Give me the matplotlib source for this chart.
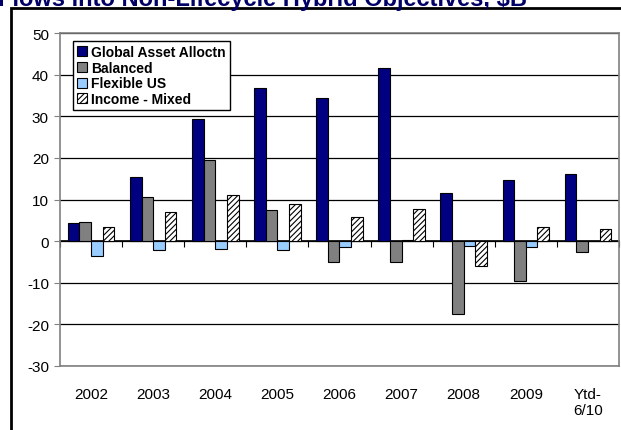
import matplotlib
matplotlib.use('Agg')
import matplotlib.pyplot as plt
import numpy as np
from matplotlib.patches import Rectangle

plt.rcParams['font.family'] = ['Liberation Sans', 'DejaVu Sans']
plt.rcParams['hatch.linewidth'] = 0.8
plt.rcParams['axes.unicode_minus'] = False

# flows by year, $B
years = ['2002', '2003', '2004', '2005', '2006', '2007', '2008', '2009', 'Ytd-\n6/10']
global_asset = [4.3, 15.3, 29.4, 36.8, 34.3, 41.7, 11.5, 14.6, 16.2]
balanced = [4.7, 10.7, 19.4, 7.5, -5.1, -4.9, -17.4, -9.5, -2.7]
flexible_us = [-3.5, -2.1, -1.9, -2.1, -1.3, 0.2, -1.1, -1.3, 0.0]
income_mixed = [3.3, 7.1, 11.1, 8.8, 5.7, 7.6, -5.9, 3.3, 2.9]

series = [
    ('Global Asset Alloctn', global_asset, '#000080', None),
    ('Balanced', balanced, '#808080', None),
    ('Flexible US', flexible_us, '#99CCFF', None),
    ('Income - Mixed', income_mixed, 'white', '//////'),
]

fig = plt.figure(figsize=(6.21, 4.31), dpi=100)
ax = fig.add_axes([60 / 621, 1 - 367 / 431, 559 / 621, 333 / 431])

x = np.arange(len(years))
w = 0.187
for i, (name, vals, color, hatch) in enumerate(series):
    ax.bar(x + (i - 1.5) * w, vals, w, color=color, edgecolor='black',
           linewidth=0.8, hatch=hatch, label=name, zorder=3)

ax.set_xlim(-0.5, len(years) - 0.5)
ax.set_ylim(-30, 50)
ax.set_yticks(np.arange(-30, 51, 10))
ax.yaxis.grid(True, color='black', linewidth=0.9, zorder=0)
ax.set_axisbelow(True)

for s in ax.spines.values():
    s.set_color('#808080')
    s.set_linewidth(1.2)

ax.tick_params(axis='y', labelsize=11, length=4, color='#808080', pad=4)
ax.set_xticks(x)
ax.set_xticklabels(years, fontsize=11, va='top')
ax.tick_params(axis='x', length=0, pad=15)

# category axis crossing at zero
zero = ax.secondary_xaxis(30 / 80)
zero.set_xticks(np.arange(len(years) + 1) - 0.5)
zero.set_xticklabels([])
zero.tick_params(length=4, direction='out', color='black', width=0.8)
zero.spines['bottom'].set_color('black')
zero.spines['bottom'].set_linewidth(1.2)
zero.spines['bottom'].set_zorder(4)

leg = ax.legend(loc='upper left', bbox_to_anchor=(0.023, 0.976), borderaxespad=0,
                fancybox=False, edgecolor='black', framealpha=1,
                prop={'weight': 'bold', 'size': 10},
                handlelength=0.75, handleheight=0.75, handletextpad=0.25,
                labelspacing=0.12, borderpad=0.3)
leg.get_frame().set_linewidth(1.0)

# outer frame and title
fig.add_artist(Rectangle((11 / 621, -0.1), 1.0, 1.1 - 9 / 431, transform=fig.transFigure,
                         fill=False, edgecolor='black', linewidth=2))
fig.text(-0.004, 1 - 6 / 431, 'Flows into Non-Lifecycle Hybrid Objectives, $B',
         fontsize=17, fontweight='bold', color='#000066', va='baseline', ha='left')

fig.savefig('out.png', dpi=100)
